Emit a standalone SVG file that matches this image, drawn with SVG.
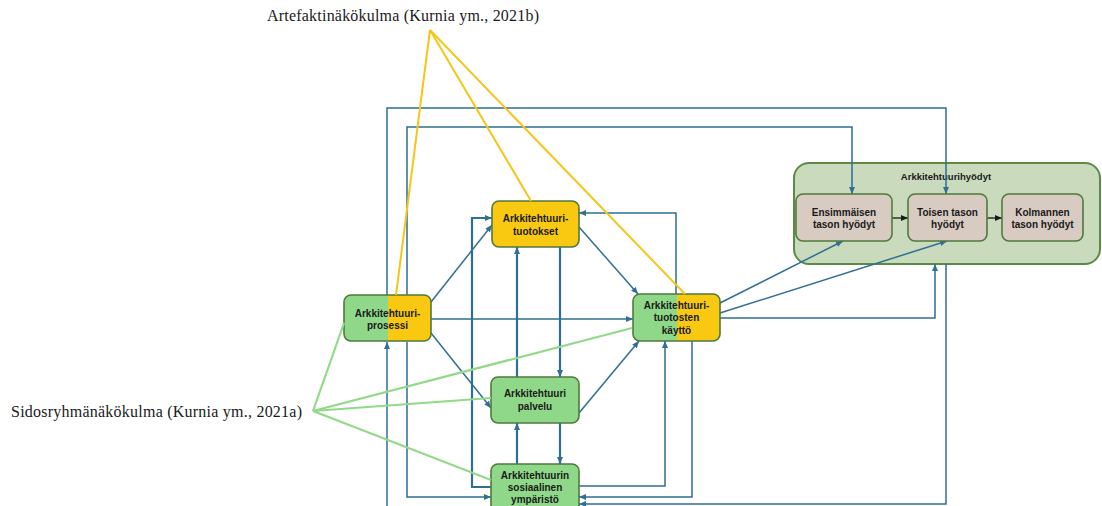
<svg xmlns="http://www.w3.org/2000/svg" width="1102" height="506" viewBox="0 0 1102 506">
  <style>
    .conn { fill: none; stroke: #2e6f93; stroke-width: 1.5; marker-end: url(#arrow); }
    .thick { stroke-width: 2.2; }
    .plain { marker-end: none; }
    .black { fill: none; stroke: #1a1a1a; stroke-width: 1.3; marker-end: url(#arrowBlack); }
    .artefact { fill: none; stroke: #f5c518; stroke-width: 2; }
    .stake { fill: none; stroke: #92d98a; stroke-width: 2.2; }
    .green { fill: #8fd889; }
    .yellow { fill: #f9c912; }
    .edge { fill: none; stroke: #4f7a3b; stroke-width: 1.6; }
    .benefit { fill: #d8cbc2; stroke: #4f7a3b; stroke-width: 1.6; }
    .lbl { font-family: "Liberation Sans", Arial, sans-serif; font-weight: bold; font-size: 10px; fill: #1a1a1a; text-anchor: middle; }
    .view { font-family: "Liberation Serif", "Times New Roman", serif; font-size: 16px; fill: #1a1a1a; }
  </style>
  <defs>
    <marker id="arrow" markerUnits="userSpaceOnUse" markerWidth="7" markerHeight="6" refX="7" refY="3" orient="auto">
      <path d="M0,0 L7,3 L0,6 z" fill="#2e6f93"/>
    </marker>
    <marker id="arrowBlack" markerUnits="userSpaceOnUse" markerWidth="7" markerHeight="6" refX="7" refY="3" orient="auto">
      <path d="M0,0 L7,3 L0,6 z" fill="#1a1a1a"/>
    </marker>
    <clipPath id="clipProsessi"><rect x="344" y="295" width="87" height="46" rx="7"/></clipPath>
    <clipPath id="clipKaytto"><rect x="633" y="294" width="87" height="47" rx="7"/></clipPath>
  </defs>

  <rect width="1102" height="506" fill="#ffffff"/>

  <!-- benefits container -->
  <g id="hyodyt">
    <rect x="794" y="163" width="306" height="101" rx="15" fill="#cadbbd" stroke="#5b8a47" stroke-width="2"/>
    <text class="lbl" x="946" y="180" style="font-size:9.5px">Arkkitehtuurihyödyt</text>
  </g>

  <!-- connectors -->
  <g id="connectors">
    <path class="conn" d="M387,295 V108 H946 V194"/>
    <path class="conn" d="M407,295 V127 H852 V194"/>
    <path class="conn" d="M387,510 V342"/>
    <path class="conn" d="M407,342 V497 H491"/>
    <path class="conn thick" d="M491,487 H472 V218 H492"/>
    <path class="conn" d="M431,302 L492,225"/>
    <path class="conn" d="M431,319 H633"/>
    <path class="conn" d="M431,333 L491,408"/>
    <path class="conn" d="M579,227 L638,294"/>
    <path class="conn" d="M676,294 V213 H579"/>
    <path class="conn thick" d="M560,247 V377"/>
    <path class="conn thick" d="M517,377 V247"/>
    <path class="conn thick" d="M560,423 V464"/>
    <path class="conn thick" d="M517,464 V423"/>
    <path class="conn" d="M579,413 L639,341"/>
    <path class="conn" d="M579,486 H665 V341"/>
    <path class="conn" d="M692,341 V497 H579"/>
    <path class="conn" d="M946,264 V504 H579"/>
    <path class="conn" d="M720,303 L843,241"/>
    <path class="conn" d="M720,313 L947,241"/>
    <path class="conn" d="M720,318 H935 V264"/>
    <path class="black" d="M892,218 H908"/>
    <path class="black" d="M987,218 H1002"/>
  </g>

  <!-- nodes -->
  <g id="prosessi">
    <g clip-path="url(#clipProsessi)">
      <rect class="green" x="344" y="295" width="44" height="46"/>
      <rect class="yellow" x="388" y="295" width="43" height="46"/>
    </g>
    <rect class="edge" x="344" y="295" width="87" height="46" rx="7"/>
    <text class="lbl" x="387.5" y="316.5">Arkkitehtuuri-</text>
    <text class="lbl" x="387.5" y="328.5">prosessi</text>
  </g>

  <g id="tuotokset">
    <rect class="yellow" x="492" y="201" width="87" height="46" rx="7"/>
    <rect class="edge" x="492" y="201" width="87" height="46" rx="7"/>
    <text class="lbl" x="535.5" y="221.5">Arkkitehtuuri-</text>
    <text class="lbl" x="535.5" y="234.5">tuotokset</text>
  </g>

  <g id="kaytto">
    <g clip-path="url(#clipKaytto)">
      <rect class="green" x="633" y="294" width="44" height="47"/>
      <rect class="yellow" x="677" y="294" width="43" height="47"/>
    </g>
    <rect class="edge" x="633" y="294" width="87" height="47" rx="7"/>
    <text class="lbl" x="676.5" y="308.5">Arkkitehtuuri-</text>
    <text class="lbl" x="676.5" y="321">tuotosten</text>
    <text class="lbl" x="676.5" y="333.5">käyttö</text>
  </g>

  <g id="palvelu">
    <rect class="green" x="491" y="377" width="88" height="46" rx="7"/>
    <rect class="edge" x="491" y="377" width="88" height="46" rx="7"/>
    <text class="lbl" x="535" y="396.5">Arkkitehtuuri</text>
    <text class="lbl" x="535" y="409.5">palvelu</text>
  </g>

  <g id="sosiaalinen">
    <rect class="green" x="491" y="464" width="88" height="48" rx="7"/>
    <rect class="edge" x="491" y="464" width="88" height="48" rx="7"/>
    <text class="lbl" x="535" y="478.5">Arkkitehtuurin</text>
    <text class="lbl" x="535" y="490.5">sosiaalinen</text>
    <text class="lbl" x="535" y="502.5">ympäristö</text>
  </g>

  <g id="ensimmainen">
    <rect class="benefit" x="796" y="194" width="96" height="47" rx="7"/>
    <text class="lbl" x="844" y="215.5">Ensimmäisen</text>
    <text class="lbl" x="844" y="227.5">tason hyödyt</text>
  </g>

  <g id="toinen">
    <rect class="benefit" x="908" y="194" width="79" height="47" rx="7"/>
    <text class="lbl" x="947.5" y="215.5">Toisen tason</text>
    <text class="lbl" x="947.5" y="227.5">hyödyt</text>
  </g>

  <g id="kolmas">
    <rect class="benefit" x="1002" y="194" width="81" height="47" rx="7"/>
    <text class="lbl" x="1042.5" y="215.5">Kolmannen</text>
    <text class="lbl" x="1042.5" y="227.5">tason hyödyt</text>
  </g>

  <!-- viewpoint annotations -->
  <g id="artefaktinakokulma">
    <path class="artefact" d="M430,30 L396,295 M430,30 L531,201 M430,30 L685,294"/>
    <text class="view" x="267" y="21" textLength="272">Artefaktinäkökulma (Kurnia ym., 2021b)</text>
  </g>

  <g id="sidosryhmanakokulma">
    <path class="stake" d="M313,411 L344,323 M313,411 L632,328 M313,411 L491,398 M313,411 L491,480"/>
    <text class="view" x="11" y="417" textLength="291">Sidosryhmänäkökulma (Kurnia ym., 2021a)</text>
  </g>
</svg>
